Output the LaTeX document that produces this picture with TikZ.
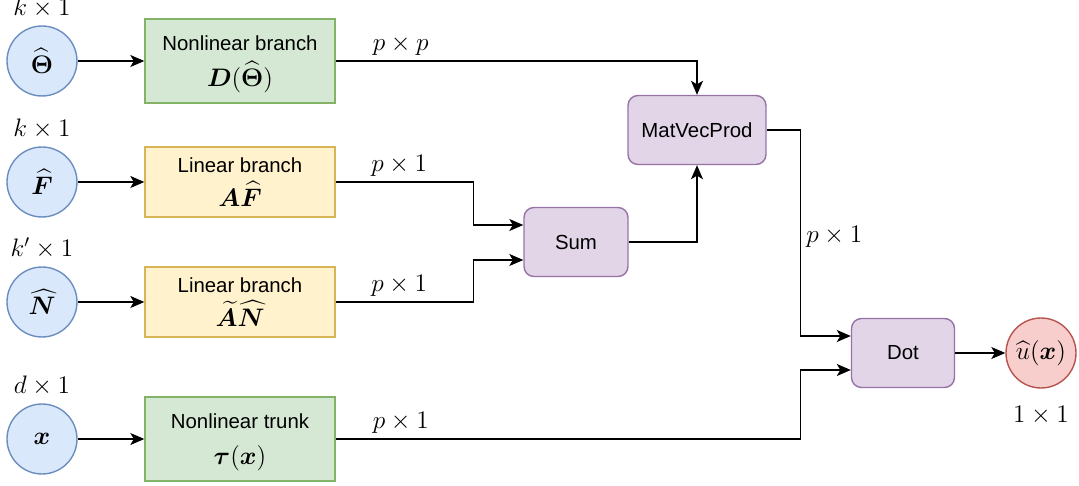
\documentclass[tikz,border=0pt]{standalone}
\usepackage{amsmath}
\usepackage{bm}
\usepackage{fontspec}
\setsansfont{Liberation Sans}
\usetikzlibrary{arrows.meta,positioning}
\definecolor{blueFill}{HTML}{DAE8FC}
\definecolor{blueLine}{HTML}{6C8EBF}
\definecolor{greenFill}{HTML}{D5E8D4}
\definecolor{greenLine}{HTML}{82B366}
\definecolor{yellowFill}{HTML}{FFF2CC}
\definecolor{yellowLine}{HTML}{D6B656}
\definecolor{purpleFill}{HTML}{E1D5E7}
\definecolor{purpleLine}{HTML}{9673A6}
\definecolor{redFill}{HTML}{F8CECC}
\definecolor{redLine}{HTML}{B85450}
\newcommand{\mathsz}{\fontsize{14}{16}\selectfont}
\tikzset{
    varnode/.style = {
        circle,
        draw=blueLine,
        fill=blueFill,
        line width=0.8pt,
        minimum size=1.4cm,
        inner sep=0pt,
        font=\mathsz
    },
    outnode/.style = {
        varnode,
        draw=redLine,
        fill=redFill
    },
    blocknode/.style = {
        rectangle,
        draw=greenLine,
        fill=greenFill,
        line width=0.8pt,
        minimum width=3.8cm,
        minimum height=1.68cm,
        align=center,
        text depth=0pt,
        font=\sffamily\fontsize{11.6}{20.5}\selectfont
    },
    linblocknode/.style = {
        blocknode,
        draw=yellowLine,
        fill=yellowFill,
        minimum height=1.4cm,
        font=\sffamily\fontsize{11.6}{19.4}\selectfont
    },
    opnode/.style = {
        rectangle,
        rounded corners=0.2cm,
        draw=purpleLine,
        fill=purpleFill,
        line width=0.8pt,
        minimum height=1.38cm,
        font=\sffamily\fontsize{11.6}{14}\selectfont
    },
    dimlabel/.style = {
        inner sep=0pt,
        font=\mathsz
    },
    flow/.style = {
        -{Stealth[length=0.28cm,width=0.24cm,inset=0.07cm]},
        line width=0.8pt
    }
}

\begin{document}
\begin{tikzpicture}[x=0.02cm, y=-0.02cm]
    \useasboundingbox (0,0) rectangle (1079,486);

    % inputs
    \node [varnode] (theta) at (42,61) {$\widehat{\bm{\Theta}}$};
    \node [varnode] (F) at (42,182) {$\widehat{\bm{F}}$};
    \node [varnode] (N) at (42,302) {$\widehat{\bm{N}}$};
    \node [varnode] (x) at (42,439) {$\bm{x}$};
    \node [dimlabel, above=0.14cm of theta] (theta dim) {$k \times 1$};
    \node [dimlabel, above=0.14cm of F] (F dim) {$k \times 1$};
    \node [dimlabel, above=0.14cm of N] (N dim) {$k' \times 1$};
    \node [dimlabel, above=0.14cm of x] (x dim) {$d \times 1$};

    % branches and trunk
    \node [blocknode] (nlbranch) at (240,61) {Nonlinear branch\\{\mathsz$\bm{D}(\widehat{\bm{\Theta}})$}};
    \node [linblocknode] (linF) at (240,182) {Linear branch\\{\mathsz$\bm{A}\widehat{\bm{F}}$}};
    \node [linblocknode] (linN) at (240,302) {Linear branch\\{\mathsz$\widetilde{\bm{A}}\widehat{\bm{N}}$}};
    \node [blocknode] (trunk) at (240,439) {Nonlinear trunk\\{\mathsz$\bm{\tau}(\bm{x})$}};

    % operations
    \node [opnode, minimum width=2.08cm] (sum) at (576,242) {Sum};
    \node [opnode, minimum width=2.76cm] (matvec) at (697,130) {MatVecProd};
    \node [opnode, minimum width=2.06cm] (dot) at (903,353) {Dot};
    \node [outnode] (u) at (1041,353) {$\widehat{u}(\bm{x})$};
    \node [dimlabel, below=0.34cm of u] (u dim) {$1 \times 1$};

    \coordinate (sum in1) at ([yshift=0.34cm]sum.west);
    \coordinate (sum in2) at ([yshift=-0.36cm]sum.west);
    \coordinate (dot in1) at ([yshift=0.34cm]dot.west);
    \coordinate (dot in2) at ([yshift=-0.34cm]dot.west);

    % connectors
    \draw [flow] (theta) -- (nlbranch);
    \draw [flow] (F) -- (linF);
    \draw [flow] (N) -- (linN);
    \draw [flow] (x) -- (trunk);
    \draw [flow] (nlbranch.east) -- node [dimlabel, pos=0.18, above=0.1cm] (pp) {$p \times p$} (nlbranch.east -| matvec.north) -- (matvec.north);
    \draw [flow] (linF.east) -- node [dimlabel, pos=0.46, above=0.1cm] (pF) {$p \times 1$} ++(138,0) |- (sum in1);
    \draw [flow] (linN.east) -- node [dimlabel, pos=0.46, above=0.1cm] (pN) {$p \times 1$} ++(138,0) |- (sum in2);
    \draw [flow] (sum.east) -| (matvec.south);
    \draw [flow] (matvec.east) -- ++(34,0) |- node [dimlabel, pos=0.26, right=0.1cm] (pm) {$p \times 1$} (dot in1);
    \draw [flow] (trunk.east) -- node [dimlabel, pos=0.14, above=0.1cm] (pt) {$p \times 1$} ++(465,0) |- (dot in2);
    \draw [flow] (dot) -- (u);
\end{tikzpicture}
\end{document}
